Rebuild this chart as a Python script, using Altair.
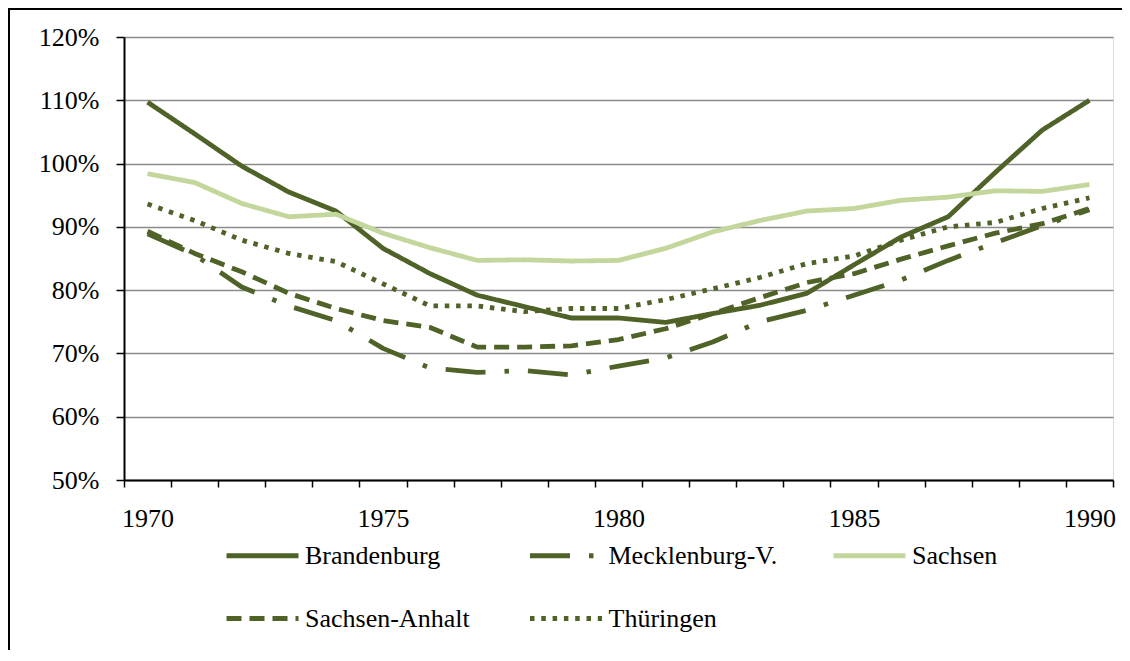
import altair as alt
import pandas as pd

years = list(range(1970, 1991))
series_names = ["Brandenburg", "Mecklenburg-V.", "Sachsen", "Sachsen-Anhalt", "Thüringen"]

brandenburg = [109.7, 104.7, 99.6, 95.5, 92.5, 86.6, 82.6, 79.2, 77.4, 75.6, 75.6,
               74.9, 76.3, 77.6, 79.5, 84.0, 88.4, 91.6, 98.6, 105.3, 110.0]
mecklenburg = [88.9, 85.6, 80.5, 77.5, 75.2, 70.8, 67.7, 67.0, 67.3, 66.6, 68.0,
               69.3, 71.8, 75.0, 76.8, 79.2, 81.6, 84.7, 87.5, 90.2, 92.7]
sachsen = [98.4, 97.0, 93.7, 91.6, 92.0, 89.0, 86.7, 84.7, 84.8, 84.6, 84.7,
           86.6, 89.2, 91.0, 92.5, 92.9, 94.2, 94.7, 95.7, 95.6, 96.7]
sachsen_anhalt = [89.3, 85.8, 82.9, 79.5, 77.1, 75.2, 74.1, 71.0, 71.0, 71.2, 72.2,
                  73.9, 76.3, 78.8, 81.2, 82.6, 84.9, 87.0, 89.0, 90.5, 92.9]
thueringen = [93.6, 91.0, 87.9, 85.8, 84.5, 81.0, 77.5, 77.5, 76.6, 77.1, 77.1,
              78.5, 80.2, 82.0, 84.2, 85.4, 87.9, 90.0, 90.7, 92.9, 94.6]

y_ticks = [0.5, 0.6, 0.7, 0.8, 0.9, 1.0, 1.1, 1.2]

rows = []
for name, vals in zip(series_names, [brandenburg, mecklenburg, sachsen, sachsen_anhalt, thueringen]):
    for yr, v in zip(years, vals):
        rows.append({"Jahr": yr, "Land": name, "Wert": v / 100.0})
df = pd.DataFrame(rows)

DARK = "#4F6228"
LIGHT = "#C3D69B"
FONT = "Liberation Serif"

colors = [DARK, DARK, LIGHT, DARK, DARK]
dashes = [[1, 0], [40, 19, 4.5, 19], [1, 0], [15, 8], [4.5, 6.8]]

legend = alt.Legend(
    title=None, orient="none", legendX=100, legendY=480, columns=3,
    direction="horizontal",
    symbolType="stroke", symbolSize=5184, symbolStrokeWidth=5,
    labelFont=FONT, labelFontSize=26, labelColor="black", labelOffset=4,
    labelLimit=400, columnPadding=45.5, rowPadding=11, gridAlign="all", padding=0,
)

x = alt.X(
    "Jahr:O", bandPosition=0.5,
    scale=alt.Scale(type="band", paddingInner=0, paddingOuter=0),
    axis=alt.Axis(
        title=None, labelAngle=0, tickBand="extent", labelOverlap=False,
        labelExpr="datum.value % 5 == 0 ? datum.label : ''",
        domainColor="black", domainWidth=2, tickColor="black", tickWidth=1.5,
        tickSize=7, labelPadding=18, labelFontSize=26, labelFont=FONT,
        labelColor="black", grid=False,
    ),
)
y = alt.Y(
    "Wert:Q",
    scale=alt.Scale(domain=[0.5, 1.2], nice=False, zero=False),
    axis=alt.Axis(
        title=None, format=".0%", values=y_ticks, grid=True,
        gridColor="#8c8c8c", gridWidth=1.5, domainColor="black", domainWidth=2,
        tickColor="black", tickSize=8, tickWidth=1.5, labelPadding=17,
        labelFontSize=26, labelFont=FONT, labelColor="black",
    ),
)

lines = alt.Chart(df).mark_line(strokeWidth=4.8, strokeJoin="round").encode(
    x=x,
    y=y,
    color=alt.Color("Land:N", scale=alt.Scale(domain=series_names, range=colors), legend=legend),
    strokeDash=alt.StrokeDash("Land:N", scale=alt.Scale(domain=series_names, range=dashes), legend=legend),
)

frame = alt.Chart(pd.DataFrame({"k": [0]})).mark_rect(
    fill="transparent", stroke="black", strokeWidth=2
).encode(
    x=alt.value(-115), x2=alt.value(1200), y=alt.value(-28), y2=alt.value(900)
)

chart = alt.layer(frame, lines).properties(
    width=989, height=443,
    autosize=alt.AutoSizeParams(type="none"),
    padding={"left": 116, "top": 29, "right": 9, "bottom": 170},
).configure_view(stroke=None).configure(background="white")

chart.save("out.html", embed_options={"renderer": "svg", "actions": False})
